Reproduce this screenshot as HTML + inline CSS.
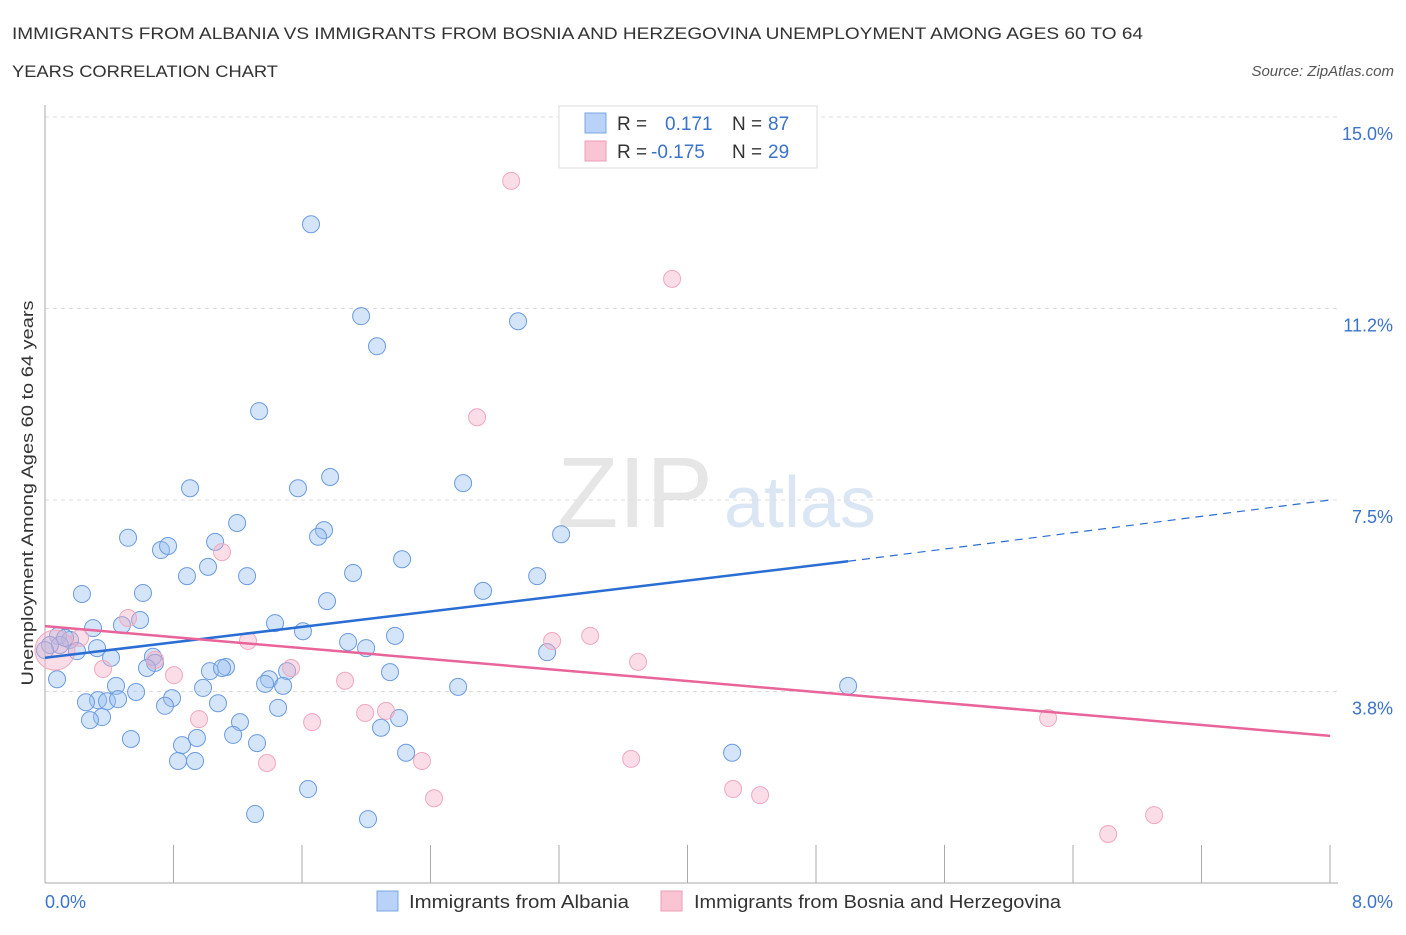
<!DOCTYPE html>
<html><head><meta charset="utf-8"><style>
body{margin:0;background:#fff;font-family:"Liberation Sans",sans-serif;}
svg text{font-family:"Liberation Sans",sans-serif;}
</style></head><body>
<svg id="chart" width="1406" height="930">
<text x="12" y="39" font-size="17" fill="#333" textLength="1131" lengthAdjust="spacingAndGlyphs">IMMIGRANTS FROM ALBANIA VS IMMIGRANTS FROM BOSNIA AND HERZEGOVINA UNEMPLOYMENT AMONG AGES 60 TO 64</text>
<text x="12" y="77" font-size="17" fill="#333" textLength="266" lengthAdjust="spacingAndGlyphs">YEARS CORRELATION CHART</text>
<text x="1394" y="76" font-size="15" fill="#555" font-style="italic" text-anchor="end">Source: ZipAtlas.com</text>
<text x="33" y="493" font-size="17" fill="#333" text-anchor="middle" textLength="385" lengthAdjust="spacingAndGlyphs" transform="rotate(-90 33 493)">Unemployment Among Ages 60 to 64 years</text>
<text x="635" y="527" font-size="100" fill="#e6e6e6" font-family="Liberation Serif" text-anchor="middle">ZIP</text>
<text x="800" y="527" font-size="72" fill="#dbe6f5" text-anchor="middle">atlas</text>
<g id="grid"></g><g id="marks"></g>
<g>
<rect x="559" y="106" width="258" height="62" fill="#fff" stroke="#ddd"/>
<rect x="585" y="113" width="21" height="20" fill="#b8d3f7" stroke="#7aa6e3"/>
<rect x="585" y="141" width="21" height="20" fill="#f9c4d4" stroke="#ee9bb5"/>
<text x="617" y="130" font-size="19" fill="#333">R =</text>
<text x="665" y="130" font-size="19" fill="#3a72cc">0.171</text>
<text x="732" y="130" font-size="19" fill="#333">N =</text>
<text x="768" y="130" font-size="19" fill="#3a72cc">87</text>
<text x="617" y="158" font-size="19" fill="#333">R =</text>
<text x="651" y="158" font-size="19" fill="#3a72cc">-0.175</text>
<text x="732" y="158" font-size="19" fill="#333">N =</text>
<text x="768" y="158" font-size="19" fill="#3a72cc">29</text>
</g>
<g>
<rect x="377" y="891" width="21" height="20" fill="#b8d3f7" stroke="#7aa6e3"/>
<text x="409" y="908" font-size="18" fill="#333" textLength="220" lengthAdjust="spacingAndGlyphs">Immigrants from Albania</text>
<rect x="661" y="891" width="21" height="20" fill="#f9c4d4" stroke="#ee9bb5"/>
<text x="694" y="908" font-size="18" fill="#333" textLength="367" lengthAdjust="spacingAndGlyphs">Immigrants from Bosnia and Herzegovina</text>
</g>
</svg>
<script>
const blueX=[1.656,1.968,2.067,2.945,1.333,2.603,0.903,1.575,1.775,1.196,0.517,1.737,1.700,3.213,0.722,0.766,1.059,2.223,1.015,0.884,1.258,1.918,3.064,2.727,0.230,0.610,1.756,1.432,0.592,0.479,0.299,1.606,2.179,1.887,1.999,3.126,0.081,0.156,0.093,0.031,0.199,0.411,0.672,0.685,0.635,1.027,1.127,1.102,1.507,2.148,1.395,1.482,1.370,2.572,5.000,0.075,0.442,0.567,0.984,0.791,0.330,0.386,0.255,0.455,1.077,0.747,1.451,0.355,0.280,2.204,1.214,2.092,1.171,0.535,0.946,0.853,1.320,2.248,4.278,0.828,0.934,1.638,1.308,2.011,0.125,0.324,0.0];
const blueY=[12.90,11.10,10.51,11.00,9.24,7.83,7.73,7.73,7.95,7.05,6.76,6.91,6.78,6.83,6.52,6.60,6.68,6.34,6.19,6.01,6.01,6.07,6.01,5.72,5.66,5.68,5.52,5.09,5.15,5.05,4.99,4.93,4.84,4.72,4.60,4.52,4.84,4.76,4.66,4.66,4.54,4.41,4.43,4.31,4.21,4.15,4.23,4.21,4.15,4.13,3.99,3.86,3.90,3.84,3.86,3.99,3.86,3.74,3.82,3.62,3.58,3.56,3.54,3.60,3.52,3.47,3.43,3.25,3.19,3.23,3.15,3.04,2.90,2.82,2.84,2.70,2.74,2.55,2.55,2.39,2.39,1.84,1.35,1.25,4.80,4.60,4.56];
const pinkX=[2.902,3.904,2.690,1.102,0.517,0.218,0.685,1.264,3.394,3.157,3.692,0.361,0.803,1.532,1.868,0.959,1.663,1.993,2.123,6.245,1.382,2.347,3.649,2.422,4.284,4.452,6.619,6.905,0.062];
const pinkY=[13.75,11.83,9.12,6.48,5.19,4.80,4.37,4.74,4.84,4.74,4.33,4.19,4.07,4.21,3.96,3.21,3.15,3.33,3.37,3.23,2.35,2.39,2.43,1.66,1.84,1.72,0.96,1.33,4.56];
const blueTrend=[4.41,6.30,7.50]; // at x=0, 5, 8
const pinkTrend=[5.03,2.88]; // at x=0, 8
const yTicks=[3.8,7.5,11.2,15.0];
const yTickVals=[3.75,7.5,11.25,15];
const xTickLabels=["0.0%","8.0%"];
const NS="http://www.w3.org/2000/svg";
const X0=45,X1=1330,Y0=883,YTOP=117;
const sx=v=>X0+(X1-X0)*v/8;
const sy=v=>Y0-(Y0-YTOP)*v/15;
function mk(tag,attrs,parent){const e=document.createElementNS(NS,tag);for(const k in attrs)e.setAttribute(k,attrs[k]);parent.appendChild(e);return e;}
const grid=document.getElementById('grid'),marks=document.getElementById('marks');
yTickVals.forEach((v,i)=>{
 const l=mk('line',{x1:X0,x2:X1+8,y1:sy(v),y2:sy(v),stroke:'#ddd','stroke-dasharray':'4,4'},grid);
 
 
 const t=mk('text',{x:1393,y:sy(v)+23,'font-size':18,fill:'#3a72cc','text-anchor':'end'},grid);
 t.textContent=yTicks[i].toFixed(1)+'%';
 
 
});
const ax=mk('line',{x1:X0,x2:X0,y1:105,y2:Y0,stroke:'#aaa'},grid);


const bx=mk('line',{x1:X0,x2:X1+8,y1:Y0,y2:Y0,stroke:'#aaa'},grid);


for(let i=0;i<=10;i++){
 const xx=sx(i*0.8);
 const tk=mk('line',{x1:xx,x2:xx,y1:845,y2:Y0,stroke:'#aaa'},grid);
 
 
}
const xl0=mk('text',{x:45,y:908,'font-size':18,fill:'#3a72cc'},grid);xl0.textContent=xTickLabels[0];


const xl1=mk('text',{x:1393,y:908,'font-size':18,fill:'#3a72cc','text-anchor':'end'},grid);xl1.textContent=xTickLabels[1];


blueX.forEach((x,i)=>{
 const c=mk('circle',{cx:sx(x),cy:sy(blueY[i]),r:8.5,fill:'rgba(150,190,240,0.4)',stroke:'#6b9be0','stroke-width':1},marks);
 
 
});
pinkX.forEach((x,i)=>{
 const big=i===pinkX.length-1;
 const c=mk('circle',{cx:sx(x),cy:sy(pinkY[i]),r:big?20:8.5,fill:'rgba(246,170,196,0.4)',stroke:'#f0a8be','stroke-width':1},marks);
 
 
});
const bl=mk('line',{x1:sx(0),y1:sy(blueTrend[0]),x2:sx(5),y2:sy(blueTrend[1]),stroke:'#2a6dd3','stroke-width':2.5},marks);


const bd=mk('line',{x1:sx(5),y1:sy(blueTrend[1]),x2:sx(8),y2:sy(blueTrend[2]),stroke:'#2a6dd3','stroke-width':1.2,'stroke-dasharray':'8,6'},marks);


const pl=mk('line',{x1:sx(0),y1:sy(pinkTrend[0]),x2:sx(8),y2:sy(pinkTrend[1]),stroke:'#e8649a','stroke-width':2.5},marks);


</script>
</body></html>
